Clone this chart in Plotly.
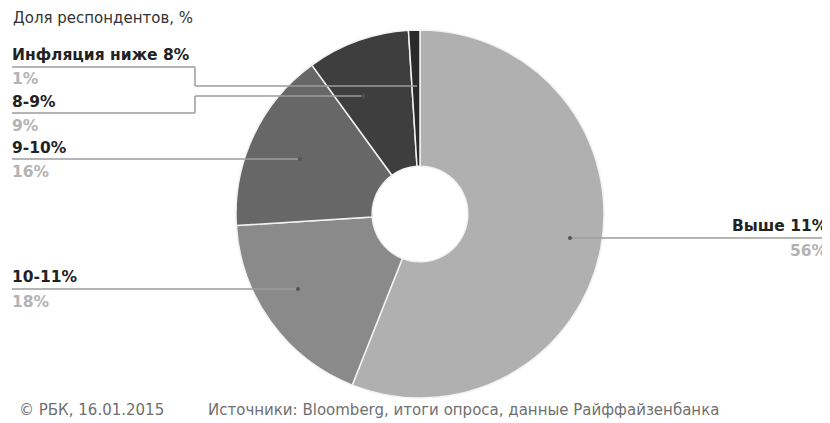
import plotly.graph_objects as go

categories = ["Выше 11%", "10-11%", "9-10%", "8-9%", "Инфляция ниже 8%"]
values = [56, 18, 16, 9, 1]
value_labels = ["56%", "18%", "16%", "9%", "1%"]
colors = ["#b0b0b0", "#8a8a8a", "#676767", "#3e3e3e", "#2a2a2a"]

# the page body has an 8px margin: the figure starts at (8, 8) in the window
OX, OY = 8, 8
W, H = 822, 415
cx, cy, R = 420, 214, 184

def px(x):
    return (x - OX) / W

def py(y):
    return 1 - (y - OY) / H

fig = go.Figure()
fig.add_trace(go.Pie(
    labels=categories, values=values, sort=False, direction="clockwise",
    rotation=0, hole=0.26, textinfo="none", hoverinfo="label+percent",
    marker=dict(colors=colors, line=dict(color="#f2f2f2", width=1.5)),
    domain=dict(x=[px(cx - R), px(cx + R)], y=[py(cy + R), py(cy - R)]),
    showlegend=False,
))

shapes = []
annotations = []
LC = "#9c9c9c"

def line(x0, y0, x1, y1):
    shapes.append(dict(type="line", xref="paper", yref="paper", x0=px(x0), y0=py(y0), x1=px(x1), y1=py(y1),
                       line=dict(color=LC, width=1.5)))

def dot(x, y):
    shapes.append(dict(type="circle", xref="paper", yref="paper", x0=px(x - 2), y0=py(y + 2), x1=px(x + 2), y1=py(y - 2),
                       fillcolor="#555555", line=dict(width=0)))

def label(x, y, text, anchor, name=True):
    annotations.append(dict(xref="paper", yref="paper", x=px(x), y=py(y), text="<b>" + text + "</b>",
                            showarrow=False, xanchor=anchor, yanchor="middle",
                            font=dict(family="DejaVu Sans", size=15.5,
                                      color="#222222" if name else "#b3b3b3")))

# Инфляция ниже 8%
label(10, 55, categories[4], "left")
label(10, 79, value_labels[4], "left", name=False)
line(12, 67, 195, 67); line(195, 67, 195, 86); line(195, 86, 417, 86)
# 8-9%
label(10, 102, categories[3], "left")
label(10, 126, value_labels[3], "left", name=False)
line(12, 113, 195, 113); line(195, 113, 195, 96); line(195, 96, 363, 96); dot(363, 96)
# 9-10%
label(10, 148, categories[2], "left")
label(10, 172, value_labels[2], "left", name=False)
line(12, 159, 300, 159); dot(300, 159)
# 10-11%
label(10, 277, categories[1], "left")
label(10, 302, value_labels[1], "left", name=False)
line(12, 289, 298, 289); dot(298, 289)
# Выше 11%
label(830, 226, categories[0], "right")
label(830, 251, value_labels[0], "right", name=False)
line(570, 238, 829, 238); dot(570, 238)

annotations.append(dict(xref="paper", yref="paper", x=px(11), y=py(18), text="Доля респондентов, %",
                        showarrow=False, xanchor="left", yanchor="middle",
                        font=dict(family="DejaVu Sans", size=15, color="#333333")))
annotations.append(dict(xref="paper", yref="paper", x=px(17), y=py(410), text="© РБК, 16.01.2015",
                        showarrow=False, xanchor="left", yanchor="middle",
                        font=dict(family="DejaVu Sans", size=15, color="#707070")))
annotations.append(dict(xref="paper", yref="paper", x=px(206), y=py(410),
                        text="Источники: Bloomberg, итоги опроса, данные Райффайзенбанка",
                        showarrow=False, xanchor="left", yanchor="middle",
                        font=dict(family="DejaVu Sans", size=15, color="#707070")))

fig.update_layout(width=W, height=H, margin=dict(l=0, r=0, t=0, b=0),
                  paper_bgcolor="white", plot_bgcolor="white",
                  shapes=shapes, annotations=annotations)

fig.write_html("out.html")
